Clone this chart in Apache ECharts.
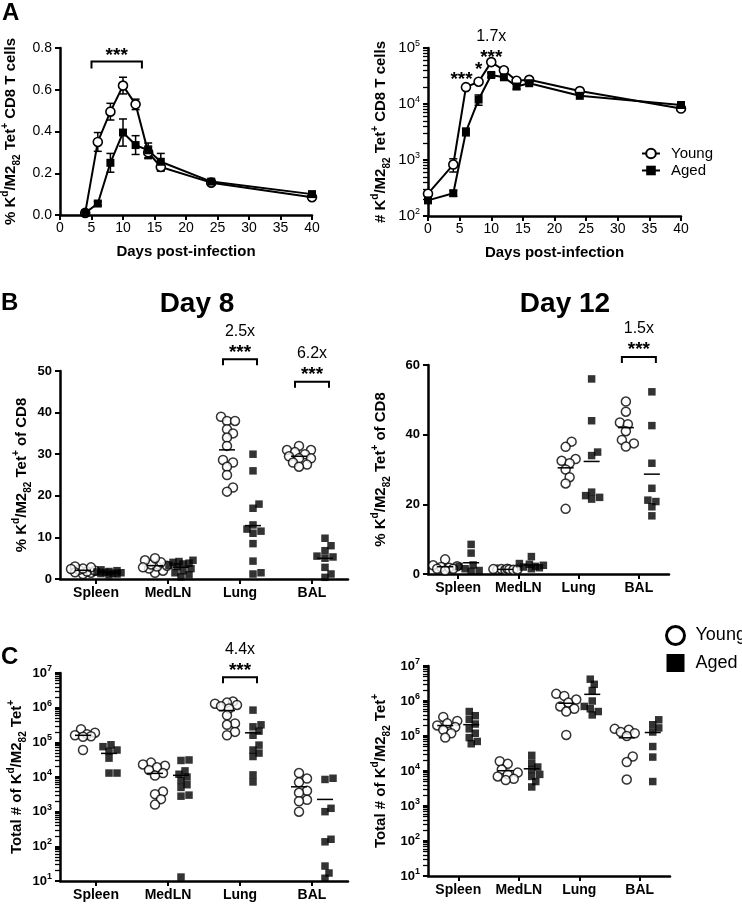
<!DOCTYPE html>
<html>
<head>
<meta charset="utf-8">
<script src="https://cdn.jsdelivr.net/npm/echarts@6/dist/echarts.min.js"></script>
<style>
html,body{margin:0;padding:0;background:#fff;}
#chart{width:742px;height:904px;}
</style>
</head>
<body>
<div id="chart"></div>
<script>
var FONT = 'Liberation Sans';

var tissues = ['Spleen', 'MedLN', 'Lung', 'BAL'];

// A: % Kd/M2 tet+ of CD8 over time
var pctDays = [4, 6, 8, 10, 12, 14, 16, 24, 40];
var pctYoung = [0.01, 0.35, 0.495, 0.62, 0.53, 0.30, 0.23, 0.155, 0.085];
var pctYoungErr = [0.005, 0.045, 0.04, 0.04, 0.025, 0.03, 0.02, 0.01, 0.01];
var pctAged = [0.01, 0.055, 0.25, 0.395, 0.335, 0.31, 0.255, 0.16, 0.10];
var pctAgedErr = [0.005, 0.01, 0.045, 0.065, 0.045, 0.035, 0.04, 0.01, 0.01];

// A: total # tet+ over time
var numDays = [0, 4, 6, 8, 10, 12, 14, 16, 24, 40];
var numYoung = [250, 830, 20000, 25000, 56000, 40000, 26000, 27000, 17000, 8300];
var numYoungErr = [0, 220, 0, 0, 4000, 0, 0, 0, 0, 0];
var numAged = [190, 255, 3200, 12000, 33000, 30000, 20500, 23500, 14000, 9600];
var numAgedErr = [0, 30, 500, 2500, 3000, 0, 2000, 0, 0, 0];

// B: day 8 % of CD8 (Spleen, MedLN, Lung, BAL)
var d8PctYoung = [
  [1.2, 1.5, 1.8, 2.0, 2.2, 2.5, 2.8, 3.0, 1.6, 2.4],
  [1.5, 2.0, 2.5, 3.0, 3.2, 3.5, 4.0, 4.5, 5.0, 2.8],
  [39, 38, 38, 36, 35, 34, 32, 28.6, 28, 27, 25, 22, 21],
  [32, 31, 31, 30.5, 30, 29.5, 29, 29, 28, 27.5, 27]
];
var d8PctAged = [
  [1.0, 1.2, 1.4, 1.5, 1.6, 1.8, 2.0, 2.2, 1.7, 1.3],
  [0.5, 1.0, 1.5, 2.0, 2.5, 3.0, 3.3, 3.6, 4.0, 4.2, 4.5, 3.8],
  [30, 26, 18, 17, 13, 12, 11.5, 11, 8.5, 4.3, 1.2, 1.5],
  [9.8, 8, 6.8, 5.5, 5.3, 5, 2.8, 1.2, 0.4]
];
// B: day 12 % of CD8
var d12PctYoung = [
  [4.2, 2.5, 2.2, 2.0, 1.8, 1.5, 1.5, 1.0],
  [1.3, 1.4, 1.2, 1.5, 1.3, 1.2, 1.4, 1.3],
  [38, 36.5, 33, 32.5, 31.8, 30, 27.8, 26, 18.7],
  [49.5, 46.6, 43.5, 43, 41, 38.5, 37.5, 36.6]
];
var d12PctAged = [
  [8.5, 6.0, 2.6, 2.2, 1.5, 1.0, 0.8],
  [5.0, 3.0, 2.5, 2.0, 2.2, 1.8, 1.5, 2.8],
  [56, 44, 35, 34, 23.5, 22.5, 22, 21.5],
  [52.3, 42.6, 31.8, 24.6, 21.2, 20.8, 19.3, 16.7]
];
// C: day 8 total #
var d8NumYoung = [
  [2.4e5, 1.9e5, 1.7e5, 1.6e5, 1.5e5, 1.45e5, 6e4],
  [2.6e4, 2.3e4, 2.1e4, 1.9e4, 1.6e4, 1.3e4, 1.1e4, 3.8e3, 3.2e3, 2.3e3, 1.6e3],
  [1.5e6, 1.4e6, 1.3e6, 1.2e6, 1.1e6, 9.5e5, 6e5, 3.5e5, 3.2e5, 2.0e5, 1.6e5],
  [1.3e4, 9e3, 7e3, 4e3, 3.5e3, 2.2e3, 2e3, 1e3]
];
var d8NumAged = [
  [8.5e4, 7.5e4, 6e4, 5.5e4, 3.5e4, 1.3e4, 1.3e4],
  [3.1e4, 3.0e4, 1.5e4, 1.2e4, 1.0e4, 8e3, 6e3, 5e3, 3e3, 2.8e3, 13],
  [8.5e5, 3.2e5, 2.8e5, 2.1e5, 1.6e5, 8.3e4, 6e4, 4.9e4, 3.9e4, 1.15e4, 7.2e3],
  [9.2e3, 8.5e3, 1.25e3, 1e3, 160, 135, 27, 17, 12]
];
// C: day 12 total #
var d12NumYoung = [
  [3.5e5, 2.7e5, 2.3e5, 2.0e5, 1.8e5, 1.5e5, 1.2e5, 9e4],
  [1.9e4, 1.6e4, 1.1e4, 9e3, 8e3, 7e3, 6e3, 5.5e3],
  [1.6e6, 1.4e6, 1.1e6, 9e5, 7e5, 6e5, 5e5, 1.07e5],
  [1.6e5, 1.5e5, 1.3e5, 1.2e5, 1.0e5, 2.6e4, 1.8e4, 5.7e3]
];
var d12NumAged = [
  [5e5, 3.8e5, 3.0e5, 2.2e5, 1.6e5, 1.2e5, 9e4, 7e4, 6e4],
  [2.8e4, 1.7e4, 1.3e4, 1.1e4, 8e3, 7e3, 5e3, 3.5e3],
  [4.2e6, 3.0e6, 2.0e6, 1.0e6, 7e5, 6e5, 5e5, 4e5],
  [2.9e5, 2.1e5, 1.7e5, 1.3e5, 5e4, 2.5e4, 5e3]
];

// significance: [tissue, bracket height, fold text]
var sigD8Pct = [[2, 52.8, '2.5x'], [3, 47.4, '6.2x']];
var sigD12Pct = [[3, 62.3, '1.5x']];
var sigD8Num = [[2, 7.5e6, '4.4x']];
var sigPctDays = [5, 13, 0.735];
// free text on the count kinetics: [day, value, text]
var numMarks = [[5.3, 27500, '***'], [8, 41000, '*'], [10, 68000, '***'], [10, 163000, '1.7x']];

var grids = [
  {left: 60, top: 48, width: 252, height: 167},
  {left: 428, top: 48, width: 253, height: 168},
  {left: 60, top: 371, width: 288, height: 208},
  {left: 428, top: 365, width: 241, height: 209},
  {left: 60, top: 673, width: 288, height: 208},
  {left: 428, top: 666, width: 242, height: 210}
];
var yRanges = [
  {min: 0, max: 0.8, interval: 0.2},
  {min: 100, max: 1e5, log: true},
  {min: 0, max: 50, interval: 10},
  {min: 0, max: 60, interval: 20},
  {min: 10, max: 1e7, log: true},
  {min: 10, max: 1e7, log: true}
];

function yFrac(gi, v) {
  var r = yRanges[gi];
  if (r.log) return (Math.log10(v) - Math.log10(r.min)) / (Math.log10(r.max) - Math.log10(r.min));
  return (v - r.min) / (r.max - r.min);
}

// spread overlapping dots sideways (pixel offsets)
function swarm(gi, vals, diam) {
  var h = grids[gi].height;
  var idx = vals.map(function (v, i) { return i; }).sort(function (a, b) { return vals[a] - vals[b]; });
  var steps = [0];
  for (var k = 1; k <= 6; k++) { steps.push(k * 2, -k * 2); }
  var placed = [], off = [];
  idx.forEach(function (i) {
    var y = yFrac(gi, vals[i]) * h;
    var best = 0, bestD = -1;
    for (var s = 0; s < steps.length; s++) {
      var dmin = Infinity;
      placed.forEach(function (p) {
        var d = Math.hypot(p[0] - steps[s], p[1] - y);
        if (d < dmin) dmin = d;
      });
      if (dmin >= diam * 0.8) { best = steps[s]; break; }
      if (dmin > bestD) { bestD = dmin; best = steps[s]; }
    }
    placed.push([best, y]);
    off[i] = best;
  });
  return off;
}

function mean(a) {
  var s = 0;
  for (var i = 0; i < a.length; i++) s += a[i];
  return s / a.length;
}

var black = '#000';
var nameRich = {
  n: {fontFamily: FONT, fontSize: 15, fontWeight: 'bold', color: black, lineHeight: 22},
  sup: {fontFamily: FONT, fontSize: 10, fontWeight: 'bold', color: black, verticalAlign: 'top'},
  sub: {fontFamily: FONT, fontSize: 10, fontWeight: 'bold', color: black, verticalAlign: 'bottom'}
};
function kdName(pre, post) {
  return '{n|' + pre + 'K}{sup|d}{n|/M2}{sub|82}{n| Tet}{sup|+}{n|' + post + '}';
}

function logLabel(bold, size) {
  return {
    color: black,
    formatter: function (v) { return '{b|10}{e|' + Math.round(Math.log10(v)) + '}'; },
    rich: {
      b: {fontFamily: FONT, fontSize: size, fontWeight: bold ? 'bold' : 'normal', color: black, lineHeight: 18},
      e: {fontFamily: FONT, fontSize: 9, fontWeight: bold ? 'bold' : 'normal', color: black, verticalAlign: 'top'}
    }
  };
}

var axisLine = {show: true, onZero: false, lineStyle: {color: black, width: 2.5}};
function tick(custom) {
  var t = {show: true, length: 5, lineStyle: {color: black, width: 2}};
  if (custom) t.customValues = custom;
  return t;
}
var catPos = [0.5, 1.5, 2.5, 3.5];

var xAxes = [], yAxes = [];
[0, 1].forEach(function (gi) {
  xAxes.push({
    gridIndex: gi, type: 'value', min: 0, max: 40, interval: 5,
    axisLine: axisLine, axisTick: tick(), splitLine: {show: false},
    axisLabel: {color: black, fontFamily: FONT, fontSize: 14, margin: 6},
    name: 'Days post-infection', nameLocation: 'middle', nameGap: 29,
    nameTextStyle: {color: black, fontFamily: FONT, fontSize: 15, fontWeight: 'bold'}
  });
});
[2, 3, 4, 5].forEach(function (gi) {
  xAxes.push({
    gridIndex: gi, type: 'value', min: 0, max: 4,
    axisLine: axisLine, axisTick: tick(catPos), splitLine: {show: false},
    axisLabel: {
      customValues: catPos, color: black, fontFamily: FONT, fontSize: 14, fontWeight: 'bold', margin: 7,
      formatter: function (v) { return tissues[Math.floor(v)]; }
    }
  });
});

yAxes.push({
  gridIndex: 0, type: 'value', min: 0, max: 0.8, interval: 0.2,
  axisLine: axisLine, axisTick: tick(), splitLine: {show: false},
  axisLabel: {color: black, fontFamily: FONT, fontSize: 14, formatter: function (v) { return v.toFixed(1); }},
  name: kdName('% ', ' CD8 T cells'), nameLocation: 'middle', nameRotate: 90, nameGap: 38,
  nameTextStyle: {rich: nameRich}
});
yAxes.push({
  gridIndex: 1, type: 'log', logBase: 10, min: 100, max: 1e5, interval: 1,
  axisLine: axisLine, axisTick: tick(), splitLine: {show: false}, minorSplitLine: {show: false},
  axisLabel: logLabel(false, 15),
  name: kdName('# ', ' CD8 T cells'), nameLocation: 'middle', nameRotate: 90, nameGap: 36,
  nameTextStyle: {rich: nameRich}
});
[2, 3].forEach(function (gi) {
  var r = yRanges[gi];
  yAxes.push({
    gridIndex: gi, type: 'value', min: r.min, max: r.max, interval: r.interval,
    axisLine: axisLine, axisTick: tick(), splitLine: {show: false},
    axisLabel: {color: black, fontFamily: FONT, fontSize: 13, fontWeight: 'bold'},
    name: kdName('% ', ' of CD8'), nameLocation: 'middle', nameRotate: 90, nameGap: gi === 2 ? 27 : 36,
    nameTextStyle: {rich: nameRich}
  });
});
[4, 5].forEach(function (gi) {
  yAxes.push({
    gridIndex: gi, type: 'log', logBase: 10, min: 10, max: 1e7, interval: 1,
    axisLine: axisLine, axisTick: tick(), splitLine: {show: false}, minorSplitLine: {show: false},
    axisLabel: logLabel(true, 13),
    name: kdName('Total # of ', ''), nameLocation: 'middle', nameRotate: 90, nameGap: gi === 4 ? 32 : 36,
    nameTextStyle: {rich: nameRich}
  });
});
// helper axes in exponent space that carry the minor ticks (2..9 of each decade)
[1, 4, 5].forEach(function (gi) {
  var r = yRanges[gi], lo = Math.round(Math.log10(r.min)), hi = Math.round(Math.log10(r.max)), vals = [];
  for (var p = lo; p < hi; p++) {
    for (var k = 2; k <= 9; k++) vals.push(p + Math.log10(k));
  }
  yAxes.push({
    gridIndex: gi, type: 'value', min: lo, max: hi, position: 'left', offset: 0,
    axisLine: {show: false}, splitLine: {show: false}, axisLabel: {show: false},
    axisTick: {show: true, length: 5, customValues: vals, lineStyle: {color: black, width: 1.3}}
  });
});

var series = [];

// kinetics lines
function kinLine(gi, name, days, vals) {
  var young = name === 'Young';
  return {
    type: 'line', name: name, xAxisIndex: gi, yAxisIndex: gi, z: young ? 3 : 4,
    data: days.map(function (d, i) { return [d, vals[i]]; }),
    symbol: young ? 'circle' : 'rect', symbolSize: young ? 9 : 8,
    lineStyle: {color: black, width: 2},
    itemStyle: young ? {color: '#fff', borderColor: black, borderWidth: 1.6} : {color: black},
    emphasis: {disabled: true}
  };
}
function errBars(gi, days, vals, errs) {
  return {
    type: 'custom', xAxisIndex: gi, yAxisIndex: gi, z: 2, clip: false, silent: true,
    data: days.map(function (d, i) { return [d, vals[i], errs[i]]; }),
    renderItem: function (params, api) {
      var x = api.value(0), v = api.value(1), e = api.value(2);
      if (!e) return null;
      var top = api.coord([x, v + e]), bot = api.coord([x, v - e]);
      var st = {stroke: black, lineWidth: 1.5};
      return {type: 'group', children: [
        {type: 'line', shape: {x1: top[0], y1: top[1], x2: bot[0], y2: bot[1]}, style: st},
        {type: 'line', shape: {x1: top[0] - 4, y1: top[1], x2: top[0] + 4, y2: top[1]}, style: st},
        {type: 'line', shape: {x1: bot[0] - 4, y1: bot[1], x2: bot[0] + 4, y2: bot[1]}, style: st}
      ]};
    }
  };
}
series.push(errBars(0, pctDays, pctYoung, pctYoungErr));
series.push(errBars(0, pctDays, pctAged, pctAgedErr));
series.push(kinLine(0, 'Young', pctDays, pctYoung));
series.push(kinLine(0, 'Aged', pctDays, pctAged));
series.push(errBars(1, numDays, numYoung, numYoungErr));
series.push(errBars(1, numDays, numAged, numAgedErr));
series.push(kinLine(1, 'Young', numDays, numYoung));
series.push(kinLine(1, 'Aged', numDays, numAged));

// dot plots
var panels = {
  2: {young: d8PctYoung, aged: d8PctAged},
  3: {young: d12PctYoung, aged: d12PctAged},
  4: {young: d8NumYoung, aged: d8NumAged},
  5: {young: d12NumYoung, aged: d12NumAged}
};
var sepPx = 13;
Object.keys(panels).forEach(function (key) {
  var gi = +key, pxu = grids[gi].width / 4;
  var means = [];
  ['young', 'aged'].forEach(function (grp) {
    var young = grp === 'young', side = young ? -1 : 1, data = [];
    panels[gi][grp].forEach(function (vals, t) {
      var xc = t + 0.5 + side * sepPx / pxu;
      var off = swarm(gi, vals, young ? 9 : 8);
      vals.forEach(function (v, i) { data.push([xc + off[i] / pxu, v]); });
      means.push([xc, mean(vals)]);
    });
    series.push({
      type: 'scatter', name: young ? 'Young' : 'Aged', xAxisIndex: gi, yAxisIndex: gi, z: 3,
      data: data, symbol: young ? 'circle' : 'rect', symbolSize: young ? 9 : 7.5,
      itemStyle: young ? {color: '#fff', borderColor: black, borderWidth: 1.5} : {color: black},
      emphasis: {disabled: true}, silent: true
    });
  });
  series.push({
    type: 'custom', xAxisIndex: gi, yAxisIndex: gi, z: 5, silent: true, clip: false,
    data: means,
    renderItem: function (params, api) {
      var p = api.coord([api.value(0), api.value(1)]);
      return {type: 'line', shape: {x1: p[0] - 8, y1: p[1], x2: p[0] + 8, y2: p[1]}, style: {stroke: black, lineWidth: 1.5}};
    }
  });
});

var starStyle = {fontFamily: FONT, fontSize: 19, fontWeight: 'bold', fill: black, align: 'center', verticalAlign: 'middle', textAlign: 'center', textVerticalAlign: 'middle'};
var foldStyle = {fontFamily: FONT, fontSize: 16, fill: black, align: 'center', verticalAlign: 'middle', textAlign: 'center', textVerticalAlign: 'middle'};
function withText(st, txt) {
  var o = {};
  for (var k in st) o[k] = st[k];
  o.text = txt;
  return o;
}

// significance brackets
function bracketSeries(gi, rows) {
  var pxu = grids[gi].width / 4, half = 17 / pxu;
  return {
    type: 'custom', xAxisIndex: gi, yAxisIndex: gi, z: 6, silent: true, clip: false,
    data: rows.map(function (r) { return [r[0] + 0.5 - half, r[0] + 0.5 + half, r[1]]; }),
    renderItem: function (params, api) {
      var p1 = api.coord([api.value(0), api.value(2)]), p2 = api.coord([api.value(1), api.value(2)]);
      var cx = (p1[0] + p2[0]) / 2, y = p1[1];
      var kids = [
        {type: 'polyline', shape: {points: [[p1[0], y + 6], [p1[0], y], [p2[0], y], [p2[0], y + 6]]}, style: {stroke: black, lineWidth: 2, fill: null}},
        {type: 'text', x: cx, y: y - 7, style: withText(starStyle, '***')}
      ];
      var fold = rows[params.dataIndex][2];
      if (fold) kids.push({type: 'text', x: cx, y: y - 28, style: withText(foldStyle, fold)});
      return {type: 'group', children: kids};
    }
  };
}
series.push(bracketSeries(2, sigD8Pct));
series.push(bracketSeries(3, sigD12Pct));
series.push(bracketSeries(4, sigD8Num));
series.push({
  type: 'custom', xAxisIndex: 0, yAxisIndex: 0, z: 6, silent: true, clip: false,
  data: [sigPctDays],
  renderItem: function (params, api) {
    var p1 = api.coord([api.value(0), api.value(2)]), p2 = api.coord([api.value(1), api.value(2)]);
    var y = p1[1];
    return {type: 'group', children: [
      {type: 'polyline', shape: {points: [[p1[0], y + 7], [p1[0], y], [p2[0], y], [p2[0], y + 7]]}, style: {stroke: black, lineWidth: 2, fill: null}},
      {type: 'text', x: (p1[0] + p2[0]) / 2, y: y - 6, style: withText(starStyle, '***')}
    ]};
  }
});
series.push({
  type: 'custom', xAxisIndex: 1, yAxisIndex: 1, z: 6, silent: true, clip: false,
  data: numMarks.map(function (m) { return [m[0], m[1]]; }),
  renderItem: function (params, api) {
    var p = api.coord([api.value(0), api.value(1)]);
    var txt = numMarks[params.dataIndex][2];
    return {type: 'text', x: p[0], y: p[1], style: withText(txt.charAt(0) === '*' ? starStyle : foldStyle, txt)};
  }
});

function label(txt, x, y, size, align) {
  return {type: 'text', x: x, y: y, silent: true,
    style: {text: txt, fontFamily: FONT, fontSize: size, fontWeight: 'bold', fill: black,
      align: align || 'left', verticalAlign: 'top', textAlign: align || 'left', textVerticalAlign: 'top'}};
}

var option = {
  animation: false,
  backgroundColor: '#fff',
  grid: grids.map(function (g) {
    return {left: g.left, top: g.top, width: g.width, height: g.height, containLabel: false, outerBoundsMode: 'none'};
  }),
  xAxis: xAxes,
  yAxis: yAxes,
  legend: [
    {
      left: 636, top: 141, orient: 'vertical', itemGap: 2, itemWidth: 18, itemHeight: 12,
      selectedMode: false, data: ['Young', 'Aged'],
      textStyle: {color: black, fontFamily: FONT, fontSize: 15, padding: [0, 0, 0, 6]}
    },
    {
      left: 660, top: 620, orient: 'vertical', itemGap: 8, itemWidth: 18, itemHeight: 18,
      selectedMode: false,
      data: [
        {name: 'Young', icon: 'circle', itemStyle: {color: '#fff', borderColor: black, borderWidth: 3}},
        {name: 'Aged', icon: 'rect', itemStyle: {color: black, borderWidth: 0}}
      ],
      textStyle: {color: black, fontFamily: FONT, fontSize: 18, padding: [0, 0, 0, 6]}
    }
  ],
  graphic: [
    label('A', 2, 1, 24),
    label('B', 1, 291, 24),
    label('C', 1, 645, 24),
    label('Day 8', 197, 290, 28, 'center'),
    label('Day 12', 565, 290, 28, 'center')
  ],
  series: series
};

var chart = echarts.init(document.getElementById('chart'));
chart.setOption(option);
</script>
</body>
</html>
